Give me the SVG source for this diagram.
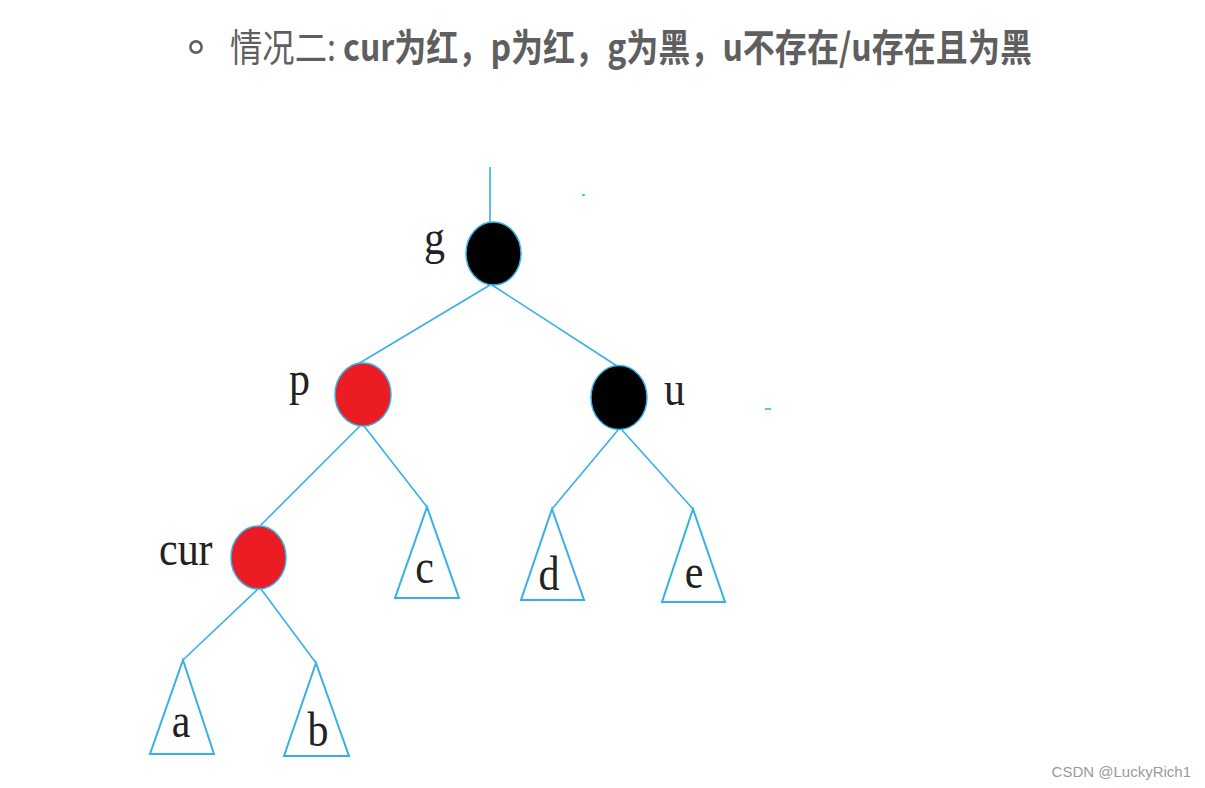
<svg xmlns="http://www.w3.org/2000/svg" width="1205" height="788" viewBox="0 0 1205 788">
<style>
.title{font-family:"Noto Sans CJK SC","Noto Sans",sans-serif;fill:#5f5f5f;font-size:38px}
.lbl{font-family:"Liberation Serif",serif;font-size:42px;fill:#222}
.edge{stroke:#36b0e6;stroke-width:1.6;fill:none}
.tri{stroke:#36b0e6;stroke-width:2;fill:#fff;stroke-linejoin:miter}
.blk{fill:#000;stroke:#36b0e6;stroke-width:1.5}
.red{fill:#ec1c24;stroke:#36b0e6;stroke-width:1.5}
</style>
<rect width="1205" height="788" fill="#fff"/>
<g id="title">
<circle cx="196" cy="47" r="5.6" fill="none" stroke="#5f5f5f" stroke-width="2.6"/>
<text class="title" x="230" y="61" textLength="106" lengthAdjust="spacingAndGlyphs">情况二:</text>
<text class="title" x="343" y="61" font-weight="bold" textLength="689" lengthAdjust="spacingAndGlyphs">cur为红，p为红，g为黑，u不存在/u存在且为黑</text>
</g>
<g id="connectors">
<line class="edge" x1="490" y1="167" x2="490" y2="222" stroke-width="2"/>
<line class="edge" x1="490" y1="285" x2="358" y2="364"/>
<line class="edge" x1="492" y1="285" x2="617" y2="366"/>
<line class="edge" x1="360" y1="426" x2="260" y2="526"/>
<line class="edge" x1="364" y1="426" x2="427" y2="507"/>
<line class="edge" x1="618" y1="430" x2="552" y2="509"/>
<line class="edge" x1="622" y1="430" x2="693" y2="509"/>
<line class="edge" x1="258" y1="589" x2="183" y2="660"/>
<line class="edge" x1="261" y1="589" x2="316" y2="663"/>
<line class="edge" x1="582" y1="195" x2="585" y2="195" stroke-width="1.5"/>
<line class="edge" x1="765" y1="409" x2="771" y2="409" stroke-width="1.5"/>
</g>
<g id="node-g">
<ellipse class="blk" cx="493.5" cy="253.5" rx="27.5" ry="31.5"/>
<text class="lbl" transform="translate(424,254) scale(1,1.14)">g</text>
</g>
<g id="node-p">
<ellipse class="red" cx="363" cy="394.5" rx="28" ry="31.5"/>
<text class="lbl" transform="translate(289,395) scale(1,1.14)">p</text>
</g>
<g id="node-u">
<ellipse class="blk" cx="619" cy="397.5" rx="28" ry="32"/>
<text class="lbl" transform="translate(664,405) scale(1,1.14)">u</text>
</g>
<g id="node-cur">
<ellipse class="red" cx="258.5" cy="557.5" rx="27.5" ry="31.5"/>
<text class="lbl" transform="translate(159,565) scale(1,1.14)">cur</text>
</g>
<g id="tree-c">
<polygon class="tri" points="427,507 459,598 395,598"/>
<text class="lbl" text-anchor="middle" transform="translate(424.5,583) scale(1,1.14)">c</text>
</g>
<g id="tree-d">
<polygon class="tri" points="552,509 584,600 521,600"/>
<text class="lbl" text-anchor="middle" transform="translate(549,590) scale(1,1.14)">d</text>
</g>
<g id="tree-e">
<polygon class="tri" points="693,509 725,602 662,602"/>
<text class="lbl" text-anchor="middle" transform="translate(694,588) scale(1,1.14)">e</text>
</g>
<g id="tree-a">
<polygon class="tri" points="183,660 214,754 150,754"/>
<text class="lbl" text-anchor="middle" transform="translate(181,737) scale(1,1.14)">a</text>
</g>
<g id="tree-b">
<polygon class="tri" points="316,663 349,756 284,756"/>
<text class="lbl" text-anchor="middle" transform="translate(318,746) scale(1,1.14)">b</text>
</g>
<text x="1191" y="777" text-anchor="end" font-family="Liberation Sans, sans-serif" font-size="15" fill="#9a9a9a">CSDN @LuckyRich1</text>
</svg>
